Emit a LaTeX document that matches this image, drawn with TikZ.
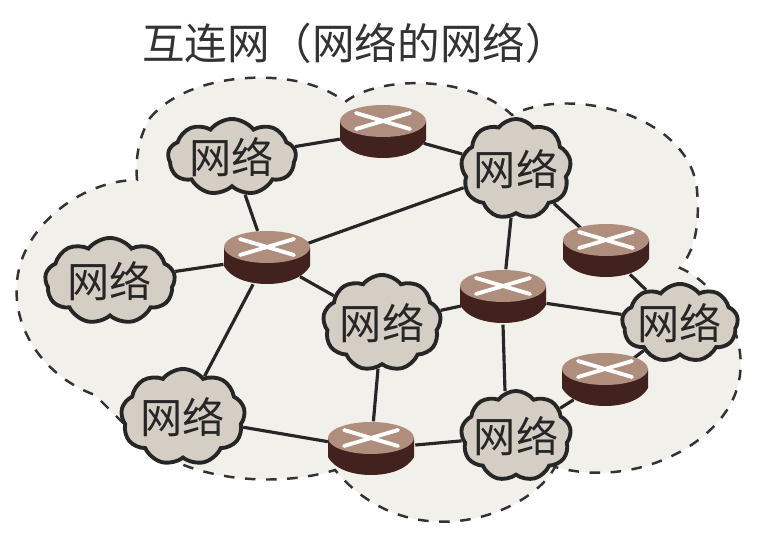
\documentclass[tikz,border=0pt]{standalone}
\usepackage{fontspec}
\newfontfamily\cjk{Noto Sans CJK SC}
\usepackage{tikz}
\usetikzlibrary{arrows.meta, positioning, calc, shapes.symbols, shapes.geometric}

\definecolor{cloudfill}{RGB}{241,240,235}
\definecolor{netfill}{RGB}{212,206,197}
\definecolor{routertop}{RGB}{176,142,126}
\definecolor{routerbody}{RGB}{66,34,30}

\begin{document}
\begin{tikzpicture}[
  x=0.01cm, y=-0.01cm,
  every label/.style={font=\cjk\fontsize{12}{14}\selectfont, text=black!85},
  net/.style={cloud, cloud puffs=9, cloud puff arc=105, cloud ignores aspect, draw=black!85, line width=1.1pt, fill=netfill, inner sep=0pt, label=center:网络},
  rt/.style={ellipse, inner sep=0pt, minimum width=0.88cm, minimum height=0.54cm},
  e/.style={-, black!85, line width=0.9pt},
  halo/.style={draw=black!80, dashed, line width=0.7pt, fill=cloudfill}
]
\useasboundingbox (0,0) rectangle (778,537);
\fill[white] (0,0) rectangle (778,537);
% dashed outer cloud
\draw[halo] (150,118) .. controls (190,70) and (300,65) .. (345,102)
  .. controls (380,75) and (470,75) .. (512,115)
  .. controls (570,85) and (690,115) .. (697,190)
  .. controls (700,225) and (695,250) .. (680,268)
  .. controls (720,285) and (750,340) .. (738,385)
  .. controls (725,440) and (640,490) .. (555,467)
  .. controls (530,515) and (410,560) .. (335,470)
  .. controls (270,490) and (170,480) .. (125,425)
  .. controls (110,410) and (105,405) .. (95,395)
  .. controls (40,375) and (5,320) .. (20,265)
  .. controls (35,215) and (90,180) .. (137,180)
  .. controls (135,155) and (140,135) .. (150,118) -- cycle;
\node[font=\cjk\fontsize{12.1}{14}\selectfont, black!80] (title) at (355,43) {互连网（网络的网络）};
% networks
\node[net, minimum width=1.28cm, minimum height=0.76cm] (n1) at (232,157) {};
\node[net, minimum width=1.10cm, minimum height=1.00cm] (n2) at (516,169) {};
\node[net, minimum width=1.30cm, minimum height=0.86cm] (n3) at (110,281) {};
\node[net, minimum width=1.18cm, minimum height=0.96cm] (n4) at (382,323) {};
\node[net, minimum width=1.16cm, minimum height=0.78cm] (n5) at (680,323) {};
\node[net, minimum width=1.24cm, minimum height=0.96cm] (n6) at (183,417) {};
\node[net, minimum width=1.10cm, minimum height=0.90cm] (n7) at (516,436) {};
% routers
\node[rt] (r1) at (383,132) {};
\node[rt] (r2) at (267,258) {};
\node[rt] (r3) at (606,251) {};
\node[rt] (r4) at (503,297) {};
\node[rt] (r5) at (605,380) {};
\node[rt] (r6) at (371,449) {};
% links
\draw[e] (n1) -- (r1);
\draw[e] (r1) -- (n2);
\draw[e] (n1) -- (r2);
\draw[e] (r2) -- (n2);
\draw[e] (n3) -- (r2);
\draw[e] (r2) -- (n4);
\draw[e] (r2) -- (n6);
\draw[e] (n2) -- (r3);
\draw[e] (n2) -- (r4);
\draw[e] (r3) -- (n5);
\draw[e] (n4) -- (r4);
\draw[e] (r4) -- (n5);
\draw[e] (r4.south) -- ($(n7.north)+(-11,2)$);
\draw[e] (n4) -- (r6);
\draw[e] (n6) -- (r6);
\draw[e] (r6) -- (n7);
\draw[e] (n7) -- (r5);
\draw[e] (r5) -- (n5);
% router bodies
\foreach \r in {r1,r2,r3,r4,r5,r6} {
  \begin{scope}[shift={(\r)}]
    \fill[routerbody] (-43,-11) -- (-43,8) .. controls (-35,22) and (-15,26) .. (0,26)
      .. controls (15,26) and (35,22) .. (43,8) -- (43,-11) -- cycle;
    \fill[routertop] (0,-11) ellipse [x radius=43, y radius=16];
    \draw[white, line width=1.1pt, line cap=round] (-27,-19) -- (27,-3) (-27,-3) -- (27,-19);
  \end{scope}
}
\end{tikzpicture}
\end{document}
